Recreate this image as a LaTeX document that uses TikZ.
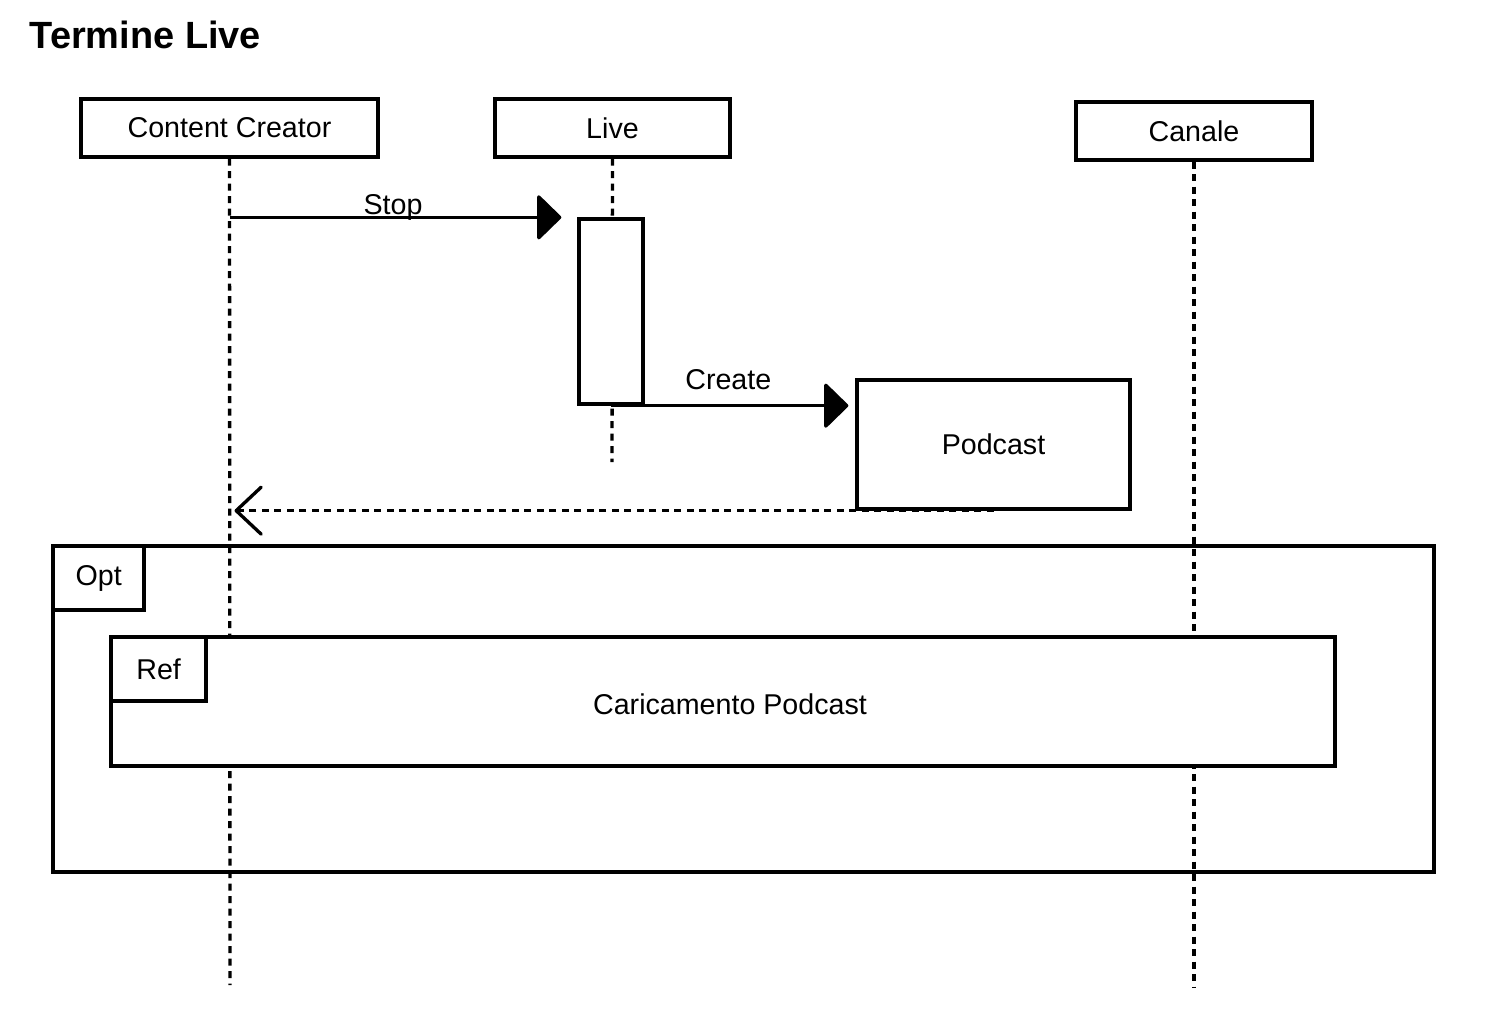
\documentclass[tikz,border=0pt]{standalone}
\usepackage{fontspec}
\setmainfont{Liberation Sans}
\usetikzlibrary{arrows.meta}

\begin{document}
\begin{tikzpicture}[x=0.02cm,y=-0.02cm,line width=1.9pt,
    box/.style={draw,fill=white,inner sep=0pt,font=\fontsize{16.3}{19}\selectfont},
    life/.style={dash pattern=on 0.14cm off 0.11cm},
    msg/.style={-{Triangle[length=0.5cm,width=0.96cm,round]}},
    back/.style={dash pattern=on 0.14cm off 0.11cm,-{Straight Barb[length=0.5cm,width=0.94cm,round]}},
    lbl/.style={font=\fontsize{16.3}{19}\selectfont,inner sep=2pt}]
\useasboundingbox (0,0) rectangle (1493,1022);
%title
\node[anchor=west,inner sep=0pt,font=\fontsize{21.6}{25}\bfseries] (title) at (28,35) {Termine Live};
%opt frame
\node[draw,minimum width=27.62cm,minimum height=6.52cm] (opt) at (743.5,709) {};
\node[box,anchor=north west,minimum width=1.82cm,minimum height=1.28cm] (opt tab) at (opt.north west) {Opt};
%participants
\node[box,minimum width=5.94cm,minimum height=1.16cm] (cc) at (229.5,128) {Content Creator};
\node[box,minimum width=4.7cm,minimum height=1.16cm] (live) at (612.5,128) {Live};
\node[box,minimum width=4.72cm,minimum height=1.16cm] (canale) at (1194,131) {Canale};
%lifelines
\coordinate (cc end) at (230,985);
\coordinate (live end) at (612,462);
\coordinate (canale end) at (1194,988);
\draw[life] (cc.south) -- (cc end);
\draw[life] (live.south) -- (live end);
\draw[life] (canale.south) -- (canale end);
%ref frame
\node[box,minimum width=24.48cm,minimum height=2.58cm] (ref) at (723,701.5) {};
\node[box,anchor=north west,minimum width=1.9cm,minimum height=1.28cm] (ref tab) at (ref.north west) {Ref};
\node[lbl] (ref text) at (730,704) {Caricamento Podcast};
%activation and podcast
\node[box,minimum width=1.28cm,minimum height=3.7cm] (act) at (611,311.5) {};
\node[box,minimum width=5.46cm,minimum height=2.58cm] (podcast) at (993.5,444.5) {Podcast};
%messages
\draw[msg,shorten >=0.32cm] (cc.south |- act.north) -- (act.north west)
    node[lbl,pos=0.47,above,inner sep=0pt,yshift=-0.1cm] (stop) {Stop};
\draw[msg,shorten >=0.14cm] (act.south) -- (act.south -| podcast.west)
    node[lbl,pos=0.48,above,inner sep=0pt,yshift=0.28cm] (create) {Create};
\draw[back,shorten >=0.1cm] (podcast.south) -- (cc.south |- podcast.south);
\end{tikzpicture}
\end{document}
